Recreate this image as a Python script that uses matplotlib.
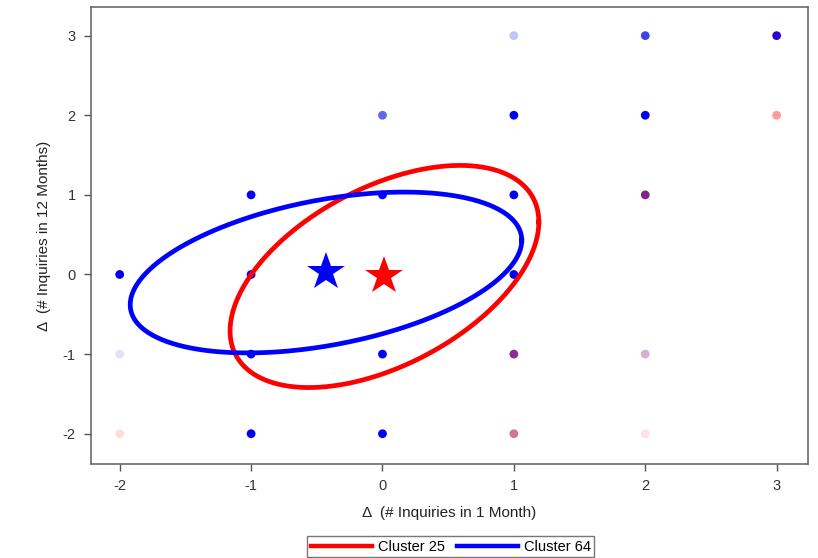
import numpy as np
import matplotlib.pyplot as plt
from matplotlib.lines import Line2D

plt.rcParams['font.family'] = ['Liberation Sans Narrow', 'Liberation Sans', 'DejaVu Sans']
plt.rcParams['axes.unicode_minus'] = False

# grid observations: delta 1 month, delta 12 months, colour (mix of clusters)
pt_x = [1, 2, 3,
        0, 1, 2, 3,
        -1, 0, 1, 2,
        -2, -1, 1,
        -2, -1, 0, 1, 2,
        -2, -1, 0, 1, 2]
pt_y = [3, 3, 3,
        2, 2, 2, 2,
        1, 1, 1, 1,
        0, 0, 0,
        -1, -1, -1, -1, -1,
        -2, -2, -2, -2, -2]
pt_col = ['#c4c4fa', '#4040f2', '#2a00d6',
          '#6666f2', '#0000f5', '#0000f5', '#ff9a9a',
          '#0000f5', '#0000f5', '#0000f5', '#802488',
          '#0000f5', '#0000f5', '#0000f5',
          '#e2e2fc', '#0000f5', '#0000f5', '#8c2c94', '#d8aed0',
          '#ffdcdc', '#0000f5', '#0000f5', '#d07890', '#ffe2e2']

# cluster centroids + ellipse shape (half width, half height, correlation)
clusters = ['Cluster 25', 'Cluster 64']
cl_colors = ['#ff0000', '#0000ff']
cen_x = [0.015, -0.43]
cen_y = [-0.025, 0.025]
half_w = [1.175, 1.49]
half_h = [1.395, 1.01]
rho = [0.49, 0.40]

fig = plt.figure(figsize=(8.18, 5.58), dpi=100)
ax = fig.add_axes([0.111, 0.1685, 0.877, 0.819])

ax.scatter(pt_x, pt_y, s=40, c=pt_col, edgecolors='none', zorder=2)

t = np.linspace(0, 2 * np.pi, 400)
for i in range(len(clusters)):
    ex = cen_x[i] + half_w[i] * np.cos(t)
    ey = cen_y[i] + half_h[i] * (rho[i] * np.cos(t) + np.sqrt(1 - rho[i] ** 2) * np.sin(t))
    ax.plot(ex, ey, color=cl_colors[i], lw=3.4, zorder=3)
    ax.plot(cen_x[i], cen_y[i], marker='*', ms=29, color=cl_colors[i],
            markeredgewidth=0, zorder=4)

ax.set_xlim(-2.22, 3.24)
ax.set_ylim(-2.38, 3.36)
ax.set_xticks([-2, -1, 0, 1, 2, 3])
ax.set_yticks([-2, -1, 0, 1, 2, 3])
ax.tick_params(direction='out', length=5, width=1, colors='#555555',
               labelcolor='#333333', labelsize=10.5, pad=6)
for sp in ax.spines.values():
    sp.set_color('#6a6a6a')
    sp.set_linewidth(1.2)

ax.set_xlabel('Δ  (# Inquiries in 1 Month)', fontsize=11, color='#222222', labelpad=9)
ax.set_ylabel('Δ  (# Inquiries in 12 Months)', fontsize=11, color='#222222', labelpad=8)

handles = [Line2D([], [], color=c, lw=3.2) for c in cl_colors]
leg = fig.legend(handles, clusters, loc='lower center', bbox_to_anchor=(0.551, -0.012),
                 ncol=2, fontsize=10.5, frameon=True, fancybox=False,
                 handlelength=4.2, handletextpad=0.4, columnspacing=0.8,
                 borderpad=0.25, edgecolor='#555555')
leg.get_frame().set_linewidth(1)

fig.savefig('out.png', dpi=100)
